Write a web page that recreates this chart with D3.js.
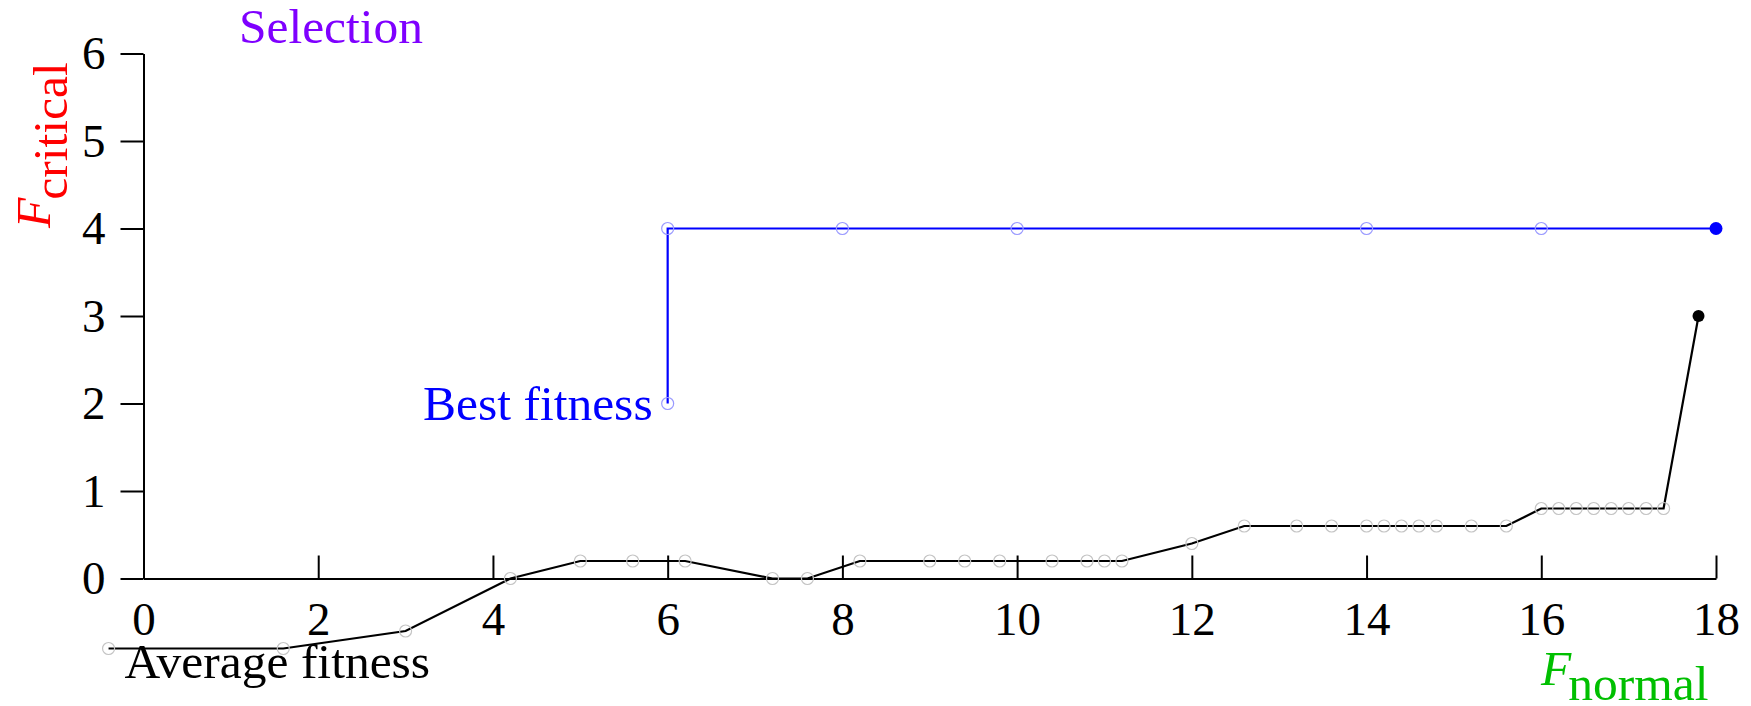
<!DOCTYPE html>
<html>
<head>
<meta charset="utf-8">
<script src="https://cdn.jsdelivr.net/npm/d3@7"></script>
<style>
  body { margin: 0; background: #fff; }
  svg text { font-family: "Liberation Serif", "DejaVu Serif", serif; }
</style>
</head>
<body>
<div id="chart"></div>
<script>

// average fitness per step
const avgX = [-0.4, 1.6, 3.0, 4.2, 5.0, 5.6, 6.2, 7.2, 7.6,
    8.2, 9.0, 9.4, 9.8, 10.4, 10.8, 11.0, 11.2, 12.0,
    12.6, 13.2, 13.6, 14.0, 14.2, 14.4, 14.6, 14.8, 15.2, 15.6,
    16.0, 16.2, 16.4, 16.6, 16.8, 17.0, 17.2, 17.4, 17.8];
const avgY = [-0.8, -0.8, -0.6, 0, 0.2, 0.2, 0.2, 0, 0,
    0.2, 0.2, 0.2, 0.2, 0.2, 0.2, 0.2, 0.2, 0.4,
    0.6, 0.6, 0.6, 0.6, 0.6, 0.6, 0.6, 0.6, 0.6, 0.6,
    0.8, 0.8, 0.8, 0.8, 0.8, 0.8, 0.8, 0.8, 3];

// best fitness
const bestX = [6, 6, 8, 10, 14, 16, 18];
const bestY = [2, 4, 4, 4, 4, 4, 4];

const xTicks = [0, 2, 4, 6, 8, 10, 12, 14, 16, 18];
const yTicks = [0, 1, 2, 3, 4, 5, 6];

const W = 1751, H = 706;
const FS = 47;     // tick labels
const LFS = 49.5;  // other labels

const svg = d3.select("#chart").append("svg")
    .attr("width", W).attr("height", H);

const x = d3.scaleLinear().domain([0, 18]).range([143.5, 1716]);
const y = d3.scaleLinear().domain([0, 6]).range([578.5, 53.5]);

// axes
const gx = svg.append("g")
    .attr("transform", `translate(0,${y(0)})`)
    .call(d3.axisBottom(x).tickValues(xTicks).tickFormat(d3.format("d"))
        .tickSizeInner(-23).tickSizeOuter(0).tickPadding(23));
const gy = svg.append("g")
    .attr("transform", `translate(${x(0)},0)`)
    .call(d3.axisLeft(y).tickValues(yTicks).tickFormat(d3.format("d"))
        .tickSizeInner(23).tickSizeOuter(0).tickPadding(15));

[gx, gy].forEach(g => {
    g.selectAll("path, line").attr("stroke", "#000").attr("stroke-width", 2);
    g.selectAll("text").attr("font-size", FS).attr("fill", "#000")
        .style("font-family", "Liberation Serif, serif");
});

// lines
const line = d3.line().x(d => x(d[0])).y(d => y(d[1]));
const avg = avgX.map((v, i) => [v, avgY[i]]);
const best = bestX.map((v, i) => [v, bestY[i]]);

svg.append("path").datum(avg).attr("d", line)
    .attr("fill", "none").attr("stroke", "#000").attr("stroke-width", 2.2);
svg.append("path").datum(best).attr("d", line)
    .attr("fill", "none").attr("stroke", "#0000ff").attr("stroke-width", 2.2);

// markers (last point of each series is filled)
svg.append("g").selectAll("circle").data(avg.slice(0, -1)).enter().append("circle")
    .attr("cx", d => x(d[0])).attr("cy", d => y(d[1])).attr("r", 6)
    .attr("fill", "none").attr("stroke", "#c4c4c4").attr("stroke-width", 1.2);
svg.append("g").selectAll("circle").data(best.slice(0, -1)).enter().append("circle")
    .attr("cx", d => x(d[0])).attr("cy", d => y(d[1])).attr("r", 6)
    .attr("fill", "none").attr("stroke", "#9a9aff").attr("stroke-width", 1.2);

const la = avg[avg.length - 1], lb = best[best.length - 1];
svg.append("circle").attr("cx", x(la[0])).attr("cy", y(la[1])).attr("r", 6).attr("fill", "#000");
svg.append("circle").attr("cx", x(lb[0])).attr("cy", y(lb[1])).attr("r", 6.5).attr("fill", "#0000ff");

// labels
svg.append("text").attr("x", x(best[0][0]) - 15).attr("y", y(best[0][1]) + 16)
    .attr("text-anchor", "end").attr("font-size", LFS).attr("fill", "#0000ff")
    .text("Best fitness");
svg.append("text").attr("x", x(avg[0][0]) + 16).attr("y", y(avg[0][1]) + 29)
    .attr("font-size", LFS).attr("fill", "#000")
    .text("Average fitness");

svg.append("text").attr("x", 331).attr("y", 43)
    .attr("text-anchor", "middle").attr("font-size", LFS).attr("fill", "#7f00ff")
    .text("Selection");

// x label
const xl = svg.append("text").attr("x", 1541).attr("y", 685)
    .attr("font-size", LFS).attr("fill", "#00bf00");
xl.append("tspan").attr("font-style", "italic").text("F");
xl.append("tspan").attr("dy", 15).attr("dx", -3).text("normal");

// y label
const yl = svg.append("text")
    .attr("transform", "translate(50,228) rotate(-90)")
    .attr("font-size", LFS).attr("fill", "#ff0000");
yl.append("tspan").attr("font-style", "italic").text("F");
yl.append("tspan").attr("dy", 17).attr("dx", -2).text("critical");

</script>
</body>
</html>
